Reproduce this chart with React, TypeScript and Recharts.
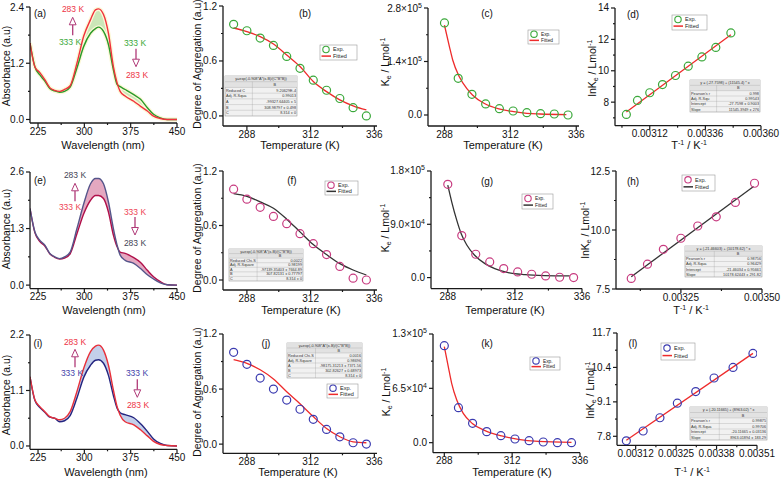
import React from "react";
import { ComposedChart, XAxis, YAxis, Line, Area, Scatter } from "recharts";

const FONT = "'Liberation Sans', Arial, sans-serif";
const AX = "#1a1a1a";

// ---------- spectra (a), (e), (i) ----------
const wl = [212, 220, 228, 236, 244, 252, 260, 268, 277, 288, 299, 310, 318, 323, 331, 339, 347, 353, 358, 366, 380, 391, 402, 412, 423, 434, 450];
const a283 = [1.63, 1.12, 1.0, 0.85, 0.68, 0.62, 0.6, 0.64, 0.72, 1.2, 1.78, 2.13, 2.34, 2.36, 2.24, 1.84, 1.13, 0.78, 0.6, 0.5, 0.39, 0.28, 0.18, 0.07, 0.02, 0.0, 0];
const a333 = [1.63, 1.12, 0.95, 0.82, 0.66, 0.61, 0.58, 0.6, 0.69, 1.1, 1.56, 1.84, 1.94, 1.97, 1.88, 1.6, 1.06, 0.75, 0.7, 0.64, 0.53, 0.43, 0.25, 0.11, 0.035, 0.0, 0];
const e283 = [1.76, 1.22, 1.03, 0.92, 0.73, 0.65, 0.61, 0.65, 0.76, 1.3, 1.87, 2.33, 2.45, 2.45, 2.33, 1.91, 1.3, 0.92, 0.69, 0.57, 0.5, 0.38, 0.24, 0.14, 0.05, 0.01, 0];
const e333 = [1.76, 1.2, 1.0, 0.9, 0.72, 0.64, 0.6, 0.62, 0.72, 1.18, 1.64, 1.95, 2.06, 2.06, 1.99, 1.68, 1.15, 0.88, 0.76, 0.73, 0.63, 0.52, 0.34, 0.19, 0.08, 0.01, 0];
const i283 = [1.37, 0.91, 0.78, 0.68, 0.58, 0.55, 0.52, 0.55, 0.68, 1.08, 1.54, 1.87, 1.98, 2.0, 1.9, 1.6, 1.11, 0.78, 0.61, 0.48, 0.42, 0.32, 0.2, 0.09, 0.03, 0.01, 0];
const i333 = [1.37, 0.9, 0.76, 0.67, 0.57, 0.55, 0.48, 0.5, 0.6, 0.95, 1.36, 1.6, 1.7, 1.71, 1.64, 1.4, 1.0, 0.75, 0.66, 0.62, 0.56, 0.44, 0.29, 0.14, 0.05, 0.01, 0];

// ---------- degree of aggregation (b), (f), (j) ----------
const tempAgg = [283, 288, 293, 298, 303, 308, 313, 318, 323, 328, 333];
const degB = [1.0, 0.93, 0.85, 0.77, 0.65, 0.52, 0.39, 0.28, 0.19, 0.09, 0.0];
const fitB = [0.96, 0.92, 0.865, 0.785, 0.665, 0.54, 0.375, 0.265, 0.175, 0.11, 0.065];
const degF = [1.0, 0.89, 0.8, 0.7, 0.62, 0.51, 0.4, 0.28, 0.15, 0.02, 0.0];
const fitF = [0.95, 0.92, 0.86, 0.79, 0.67, 0.53, 0.39, 0.28, 0.18, 0.11, 0.055];
const degJ = [1.0, 0.87, 0.72, 0.6, 0.48, 0.38, 0.27, 0.16, 0.08, 0.015, 0.0];
const fitJ = [0.92, 0.88, 0.81, 0.71, 0.57, 0.44, 0.3, 0.17, 0.08, 0.025, 0.015];

// ---------- Ke vs T (c), (g), (k) ----------
const tempKe = [288, 293, 298, 303, 308, 313, 318, 323, 328, 333];
const keC = [241000, 96000, 54000, 29000, 16600, 10500, 6100, 3500, 2600, 0];
const fitCT = [288, 289.8, 291, 293.4, 296.4, 298.2, 302.4, 307.8, 313.2, 318, 322.8, 332.4];
const fitCV = [235000, 179000, 144000, 100000, 67000, 52500, 30600, 15700, 8750, 4400, 2600, 900];
const keG = [157500, 71000, 39400, 26400, 15200, 9600, 5600, 2800, 600, 0];
const fitGT = [288, 289.4, 291.2, 292.8, 294.8, 297.6, 301.3, 304.8, 309.6, 315.6, 322.7, 331.6];
const fitGV = [156000, 128000, 97000, 74000, 55000, 37700, 23600, 15200, 8400, 5000, 3400, 2800];
const keK = [116000, 41900, 23100, 13200, 8400, 4400, 2400, 800, 0, 0];
const fitKT = [288, 289.4, 290.6, 292.4, 294.7, 297.9, 302.4, 308.3, 314.2, 321.3, 333];
const fitKV = [115000, 91000, 71000, 51000, 35000, 23000, 14400, 8000, 4000, 1600, 400];

// ---------- lnKe vs 1/T (d), (h), (l) ----------
const invD = [0.003019, 0.003067, 0.00312, 0.003175, 0.003231, 0.003286, 0.003345, 0.003405, 0.00347];
const lnD = [7.22, 8.11, 8.6, 9.12, 9.7, 10.29, 10.88, 11.49, 12.41];
const fitDX = [0.003019, 0.00347];
const fitDY = [7.37, 12.3];
const invH = [0.003097, 0.003147, 0.003196, 0.00325, 0.003302, 0.003359, 0.003418, 0.003477];
const lnH = [7.95, 8.55, 9.18, 9.65, 10.17, 10.56, 11.17, 11.98];
const fitHX = [0.003097, 0.003474];
const fitHY = [8.02, 11.84];
const invL = [0.00309, 0.003144, 0.003198, 0.003254, 0.003313, 0.003372, 0.003433, 0.003497];
const lnL = [7.63, 8.0, 8.5, 9.05, 9.49, 10.0, 10.4, 10.93];
const fitLX = [0.00309, 0.003497];
const fitLY = [7.65, 10.93];

// ---------- fit report tables ----------
const tblB = { title: "y=exp(-0.908*A*(x-B)/(C*B*B))", rows: [["Reduced C", "9.20629E-4"], ["Adj. R-Squa", "0.99013"], ["A", "-99327.64405 ± 5"], ["B", "308.98797 ± 0.498"], ["C", "8.314 ± 0"]] };
const tblF = { title: "y=exp(-0.908*A*(x-B)/(C*B*B))", rows: [["Reduced Chi-S", "0.0022"], ["Adj. R-Square", "0.98199"], ["A", "-97139.35403 ± 7664.89"], ["B", "307.82131 ± 0.77797"], ["C", "8.314 ± 0"]] };
const tblJ = { title: "y=exp(-0.908*A*(x-B)/(C*B*B))", rows: [["Reduced Chi-S", "0.0016"], ["Adj. R-Square", "0.98696"], ["A", "-98175.31213 ± 7371.56"], ["B", "302.82627 ± 0.68973"], ["C", "8.314 ± 0"]] };
const tblD = { title: "y = (-27.7598) + (11545.4) * x", rows: [["Pearson's r", "0.998"], ["Adj. R-Squ", "0.99543"], ["Intercept", "-27.7598 ± 0.9003"], ["Slope", "11545.3949 ± 276"]] };
const tblH = { title: "y = (-21.46603) + (10178.62) * x", rows: [["Pearson's r", "0.98756"], ["Adj. R-Squa", "0.96429"], ["Intercept", "-21.46034 ± 0.95661"], ["Slope", "10178.62443 ± 291.82"]] };
const tblL = { title: "y = (-20.11665) + (8963.02) * x", rows: [["Pearson's r", "0.99875"], ["Adj. R-Squa", "0.99706"], ["Intercept", "-20.11665 ± 0.03136"], ["Slope", "8963.01894 ± 183.29"]] };

const zip = (xs: number[], ys: number[]) => xs.map((x, i) => ({ x, y: ys[i] }));
const spec = (lo: number[], hi: number[]) =>
  wl.map((x, i) => ({ x, lo: lo[i], hi: hi[i], band: [lo[i], hi[i]] }));

const f1 = (v: number) => v.toFixed(1);
const f0 = (v: number) => String(Math.round(v));
const f5 = (v: number) => v.toFixed(5);
const sci = (v: number) => {
  if (v === 0) return "0.0";
  const e = Math.floor(Math.log10(v) + 1e-9);
  return (
    <>
      <tspan>{(v / 10 ** e).toFixed(1) + "×10"}</tspan>
      <tspan fontSize={7} dy={-4}>{e}</tspan>
    </>
  );
};

function makeTick(axis: "x" | "y", majors: number[], fmt: (v: number) => any) {
  return (p: any) => {
    const { x, y, payload } = p;
    const v = payload.value;
    const major = majors.some((m) => Math.abs(m - v) < 1e-12);
    const len = major ? 4 : 2;
    if (axis === "x") {
      return (
        <g>
          <line x1={x} x2={x} y1={y} y2={y + len} stroke={AX} strokeWidth={1.2} />
          {major && (
            <text x={x} y={y + 11.5} textAnchor="middle" fontSize={10} fill="#111" fontFamily={FONT}>
              {fmt(v)}
            </text>
          )}
        </g>
      );
    }
    return (
      <g>
        <line x1={x} x2={x - len} y1={y} y2={y} stroke={AX} strokeWidth={1.2} />
        {major && (
          <text x={x - 6} y={y + 3.5} textAnchor="end" fontSize={10} fill="#111" fontFamily={FONT}>
            {fmt(v)}
          </text>
        )}
      </g>
    );
  };
}

type Rect = { x: number; y: number; w: number; h: number };

function Panel(props: {
  plot: Rect; xd: number[]; yd: number[];
  xt: number[]; xm: number[]; yt: number[]; ym: number[];
  xf: (v: number) => any; yf: (v: number) => any;
  data?: any[]; children: any;
}) {
  const { plot, xd, yd, xt, xm, yt, ym, xf, yf, data, children } = props;
  return (
    <div style={{ position: "absolute", left: plot.x - 50, top: plot.y - 10 }}>
      <ComposedChart width={plot.w + 80} height={plot.h + 50} data={data}
        margin={{ top: 10, right: 30, bottom: 10, left: 0 }}>
        <XAxis type="number" dataKey="x" domain={xd as any} ticks={[...xt, ...xm]} interval={0}
          allowDataOverflow height={30} tickLine={false} tickSize={0} tickMargin={0}
          axisLine={{ stroke: AX, strokeWidth: 1.3 }} tick={makeTick("x", xt, xf)} />
        <YAxis type="number" domain={yd as any} ticks={[...yt, ...ym]} interval={0}
          allowDataOverflow width={50} tickLine={false} tickSize={0} tickMargin={0}
          axisLine={{ stroke: AX, strokeWidth: 1.3 }} tick={makeTick("y", yt, yf)} />
        {children}
      </ComposedChart>
    </div>
  );
}

const ring = (color: string) => (p: any) =>
  <circle cx={p.cx} cy={p.cy} r={4} fill="none" stroke={color} strokeWidth={1.2} />;

function Spectra({ plot, data, yt, ym, yd, hiC, loC, fill, halo }: any) {
  return (
    <Panel plot={plot} xd={[212, 450]} yd={yd} xt={[225, 300, 375, 450]} xm={[262.5, 337.5, 412.5]}
      yt={yt} ym={ym} xf={f0} yf={f1} data={data}>
      {halo && <Line dataKey="hi" type="monotone" stroke={halo} strokeWidth={4} dot={false} isAnimationActive={false} />}
      {halo && <Line dataKey="lo" type="monotone" stroke={halo} strokeWidth={4} dot={false} isAnimationActive={false} />}
      <Area dataKey="band" type="monotone" fill={fill} fillOpacity={1} stroke="none" isAnimationActive={false} />
      <Line dataKey="lo" type="monotone" stroke={loC} strokeWidth={1.4} dot={false} isAnimationActive={false} />
      <Line dataKey="hi" type="monotone" stroke={hiC} strokeWidth={1.4} dot={false} isAnimationActive={false} />
    </Panel>
  );
}

function FitPanel({ plot, xd, yd, xt, xm, yt, ym, xf, yf, exp, fit, dotC, lineC, curve }: any) {
  return (
    <Panel plot={plot} xd={xd} yd={yd} xt={xt} xm={xm} yt={yt} ym={ym} xf={xf} yf={yf}>
      <Line data={fit} dataKey="y" type={curve} stroke={lineC} strokeWidth={1.3} dot={false} isAnimationActive={false} />
      <Scatter data={exp} dataKey="y" shape={ring(dotC)} isAnimationActive={false} />
    </Panel>
  );
}

// ---------- overlay helpers ----------
function T({ x, y, s = 11, c = "#111", a = "middle", rot = false, children }: any) {
  return (
    <text x={x} y={y} fontSize={s} fill={c} textAnchor={a} dy="0.35em" fontFamily={FONT}
      transform={rot ? `rotate(-90 ${x} ${y})` : undefined}>
      {children}
    </text>
  );
}

function Arrow({ x, tip, up, c = "#b03a78" }: any) {
  const d = up ? 1 : -1;
  const base = tip + d * 7.5;
  const end = tip + d * 18;
  return (
    <g>
      <line x1={x} x2={x} y1={base} y2={end} stroke={c} strokeWidth={1.3} />
      <polygon points={`${x},${tip} ${x - 3.4},${base} ${x + 3.4},${base}`} fill="#fff" stroke={c} strokeWidth={1} />
    </g>
  );
}

function Legend({ x, y, w, h, dot, line, s = 5.5 }: any) {
  return (
    <g fontFamily={FONT}>
      <rect x={x} y={y} width={w} height={h} fill="#fff" stroke="#999" strokeWidth={0.6} />
      <circle cx={x + 6} cy={y + h * 0.3} r={3.2} fill="none" stroke={dot} strokeWidth={1.1} />
      <text x={x + 13} y={y + h * 0.3} dy="0.35em" fontSize={s} fill="#222">Exp.</text>
      <line x1={x + 1.5} x2={x + 11} y1={y + h * 0.74} y2={y + h * 0.74} stroke={line} strokeWidth={1.5} />
      <text x={x + 13} y={y + h * 0.74} dy="0.35em" fontSize={s} fill="#222">Fitted</text>
    </g>
  );
}

function Table({ x, y, w, h, t }: any) {
  const n = t.rows.length + 2;
  const rh = h / n;
  const split = x + w * 0.38;
  return (
    <g fontFamily={FONT} fontSize={3.8} fill="#333">
      <rect x={x} y={y} width={w} height={h} fill="#f1f1f1" stroke="#888" strokeWidth={0.5} />
      <rect x={x} y={y} width={w} height={rh * 2} fill="#e2e2e2" />
      <text x={x + w / 2} y={y + rh * 0.5} dy="0.35em" textAnchor="middle">{t.title}</text>
      <text x={split + (x + w - split) / 2} y={y + rh * 1.5} dy="0.35em" textAnchor="middle">B</text>
      {Array.from({ length: n - 1 }, (_, i) => (
        <line key={i} x1={x} x2={x + w} y1={y + rh * (i + 1)} y2={y + rh * (i + 1)} stroke="#999" strokeWidth={0.3} />
      ))}
      <line x1={split} x2={split} y1={y + rh} y2={y + h} stroke="#999" strokeWidth={0.3} />
      {t.rows.map((r: string[], i: number) => (
        <g key={i}>
          <text x={x + 1} y={y + rh * (i + 2.5)} dy="0.35em">{r[0]}</text>
          <text x={x + w - 1} y={y + rh * (i + 2.5)} dy="0.35em" textAnchor="end">{r[1]}</text>
        </g>
      ))}
    </g>
  );
}

const KeTitle = () => (
  <>
    <tspan>K</tspan><tspan fontSize={7} dy={2}>e</tspan>
    <tspan dy={-2}> / Lmol</tspan><tspan fontSize={7} dy={-4}>-1</tspan>
  </>
);
const LnKTitle = () => (
  <>
    <tspan>lnK</tspan><tspan fontSize={7} dy={2}>e</tspan>
    <tspan dy={-2}> / Lmol</tspan><tspan fontSize={7} dy={-4}>-1</tspan>
  </>
);
const InvTTitle = () => (
  <>
    <tspan>T</tspan><tspan fontSize={7} dy={-4}>-1</tspan>
    <tspan dy={4}> / K</tspan><tspan fontSize={7} dy={-4}>-1</tspan>
  </>
);

const GREEN = "#3aa83a";
const RED = "#ee2b2b";
const PINK = "#c83c80";
const DARK = "#333333";
const BLUE = "#3b3bb0";

const aggX = { xd: [279, 337], xt: [288, 312, 336], xm: [300, 324], xf: f0, yt: [0, 0.6, 1.2], ym: [0.3, 0.9], yf: f1 };
const keX = { xt: [288, 312, 336], xm: [300, 324], xf: f0, yf: sci };

export default function App() {
  return (
    <div style={{ position: "fixed", left: 0, top: 0, width: 783, height: 479, background: "#fff", overflow: "hidden", fontFamily: FONT }}>
      {/* row 1 */}
      <Spectra plot={{ x: 30, y: 7.3, w: 147, h: 116 }} data={spec(a333, a283)} yd={[-0.075, 2.4]}
        yt={[0, 1.2, 2.4]} ym={[0.6, 1.8]} hiC="#f0323c" loC="#2a9a2a" fill="#cbe6b8" halo="#fcf8d8" />
      <FitPanel plot={{ x: 223, y: 6, w: 154, h: 120 }} {...aggX} yd={[-0.11, 1.2]}
        exp={zip(tempAgg, degB)} fit={zip(tempAgg, fitB)} dotC={GREEN} lineC={RED} curve="monotone" />
      <FitPanel plot={{ x: 428, y: 8, w: 151, h: 118 }} {...keX} xd={[282, 337]} yd={[-28800, 280000]}
        yt={[0, 140000, 280000]} ym={[70000, 210000]}
        exp={zip(tempKe, keC)} fit={zip(fitCT, fitCV)} dotC={GREEN} lineC={RED} curve="monotone" />
      <FitPanel plot={{ x: 615, y: 8.3, w: 146, h: 117.7 }} xd={[0.00297, 0.0036]} yd={[6.5, 14]}
        xt={[0.00312, 0.00336, 0.0036]} xm={[0.003, 0.00324, 0.00348]} xf={f5}
        yt={[8, 10, 12, 14]} ym={[7, 9, 11, 13]} yf={f0}
        exp={zip(invD, lnD)} fit={zip(fitDX, fitDY)} dotC={GREEN} lineC={RED} curve="linear" />

      {/* row 2 */}
      <Spectra plot={{ x: 30, y: 171.7, w: 147, h: 116.6 }} data={spec(e333, e283)} yd={[-0.08, 2.6]}
        yt={[0, 1.3, 2.6]} ym={[0.65, 1.95]} hiC="#55558a" loC="#b0104a" fill="#e4a8c0" />
      <FitPanel plot={{ x: 223, y: 171, w: 154, h: 119 }} {...aggX} yd={[-0.11, 1.2]}
        exp={zip(tempAgg, degF)} fit={zip(tempAgg, fitF)} dotC={PINK} lineC={DARK} curve="monotone" />
      <FitPanel plot={{ x: 431, y: 170.7, w: 151, h: 117.6 }} {...keX} xd={[282, 336]} yd={[-18600, 180000]}
        yt={[0, 90000, 180000]} ym={[45000, 135000]}
        exp={zip(tempKe, keG)} fit={zip(fitGT, fitGV)} dotC={PINK} lineC={DARK} curve="monotone" />
      <FitPanel plot={{ x: 616, y: 171, w: 146, h: 118 }} xd={[0.00305, 0.0035]} yd={[7.5, 12.5]}
        xt={[0.00325, 0.0035]} xm={[0.003125, 0.003375]} xf={f5}
        yt={[7.5, 10, 12.5]} ym={[8.75, 11.25]} yf={f1}
        exp={zip(invH, lnH)} fit={zip(fitHX, fitHY)} dotC={PINK} lineC={DARK} curve="linear" />

      {/* row 3 */}
      <Spectra plot={{ x: 30, y: 335, w: 147, h: 114.3 }} data={spec(i333, i283)} yd={[-0.066, 2.2]}
        yt={[0, 1.1, 2.2]} ym={[0.55, 1.65]} hiC="#e8303a" loC="#252580" fill="#c3cfea" />
      <FitPanel plot={{ x: 223, y: 334, w: 154, h: 119.3 }} {...aggX} yd={[-0.1, 1.2]}
        exp={zip(tempAgg, degJ)} fit={zip(tempAgg, fitJ)} dotC={BLUE} lineC={RED} curve="monotone" />
      <FitPanel plot={{ x: 433, y: 334, w: 147, h: 118.7 }} {...keX} xd={[284, 336]} yd={[-12000, 130000]}
        yt={[0, 65000, 130000]} ym={[32500, 97500]}
        exp={zip(tempKe, keK)} fit={zip(fitKT, fitKV)} dotC={BLUE} lineC={RED} curve="monotone" />
      <FitPanel plot={{ x: 617, y: 332.7, w: 140, h: 112.3 }} xd={[0.00306, 0.00351]} yd={[7.46, 11.7]}
        xt={[0.00312, 0.00325, 0.00338, 0.00351]} xm={[0.003185, 0.003315, 0.003445]} xf={f5}
        yt={[7.8, 9.1, 10.4, 11.7]} ym={[8.45, 9.75, 11.05]} yf={f1}
        exp={zip(invL, lnL)} fit={zip(fitLX, fitLY)} dotC={BLUE} lineC={RED} curve="linear" />

      <svg width={783} height={479} style={{ position: "absolute", left: 0, top: 0, pointerEvents: "none" }}>
        {/* panel letters */}
        <T x={40} y={13.3} s={10}>(a)</T>
        <T x={305} y={13} s={10}>(b)</T>
        <T x={487} y={13} s={10}>(c)</T>
        <T x={633} y={14} s={10}>(d)</T>
        <T x={40} y={180} s={10}>(e)</T>
        <T x={292} y={180} s={10}>(f)</T>
        <T x={487} y={181.7} s={10}>(g)</T>
        <T x={633} y={181} s={10}>(h)</T>
        <T x={38} y={343} s={10}>(i)</T>
        <T x={266} y={343} s={10}>(j)</T>
        <T x={487} y={343} s={10}>(k)</T>
        <T x={633} y={343} s={10}>(l)</T>

        {/* x titles */}
        <T x={103} y={145}>Wavelength (nm)</T>
        <T x={300} y={145}>Temperature (K)</T>
        <T x={503} y={145}>Temperature (K)</T>
        <T x={689} y={145}><InvTTitle /></T>
        <T x={104} y={310}>Wavelength (nm)</T>
        <T x={301} y={310}>Temperature (K)</T>
        <T x={505} y={310}>Temperature (K)</T>
        <T x={691} y={310}><InvTTitle /></T>
        <T x={106} y={472}>Wavelength (nm)</T>
        <T x={298} y={472}>Temperature (K)</T>
        <T x={512} y={472}>Temperature (K)</T>
        <T x={692} y={472}><InvTTitle /></T>

        {/* y titles */}
        <T x={6} y={66} s={10.5} rot>Absorbance (a.u)</T>
        <T x={6} y={229} s={10.5} rot>Absorbance (a.u)</T>
        <T x={6} y={395} s={10.5} rot>Absorbance (a.u)</T>
        <T x={197} y={64} s={10.5} rot>Degree of Aggregation (a.u)</T>
        <T x={197} y={228} s={10.5} rot>Degree of Aggregation (a.u)</T>
        <T x={197} y={392} s={10.5} rot>Degree of Aggregation (a.u)</T>
        <T x={385} y={62} s={10.5} rot><KeTitle /></T>
        <T x={385} y={228} s={10.5} rot><KeTitle /></T>
        <T x={386} y={392} s={10.5} rot><KeTitle /></T>
        <T x={592} y={68} s={10.5} rot><LnKTitle /></T>
        <T x={585} y={230} s={10.5} rot><LnKTitle /></T>
        <T x={590} y={390} s={10.5} rot><LnKTitle /></T>

        {/* temperature annotations */}
        <T x={73} y={9.3} s={8.5} c="#ee3344">283 K</T>
        <Arrow x={72.7} tip={17.3} up />
        <T x={70} y={41.7} s={8.5} c={GREEN}>333 K</T>
        <T x={135} y={43.3} s={8.5} c={GREEN}>333 K</T>
        <Arrow x={136} tip={66.7} />
        <T x={137} y={75} s={8.5} c="#ee3344">283 K</T>

        <T x={75} y={175} s={8.5} c="#444455">283 K</T>
        <Arrow x={75} tip={183.3} up />
        <T x={70} y={207.3} s={8.5} c="#ee4455">333 K</T>
        <T x={135} y={211.7} s={8.5} c="#ee4455">333 K</T>
        <Arrow x={135} tip={235} />
        <T x={135} y={243.3} s={8.5} c="#444455">283 K</T>

        <T x={75} y={341.7} s={8.5} c="#ee3344">283 K</T>
        <Arrow x={75} tip={349.3} up />
        <T x={72} y={373.3} s={8.5} c="#4444aa">333 K</T>
        <T x={137} y={373.3} s={8.5} c="#4444aa">333 K</T>
        <Arrow x={137.3} tip={397.3} />
        <T x={138} y={405} s={8.5} c="#ee3344">283 K</T>

        {/* legends */}
        <Legend x={320} y={45} w={37} h={15} dot={GREEN} line={RED} />
        <Legend x={528} y={30} w={31} h={14} dot={GREEN} line={RED} s={4.8} />
        <Legend x={672} y={15} w={35} h={15} dot={GREEN} line={RED} />
        <Legend x={325} y={181} w={33} h={14} dot={PINK} line={DARK} />
        <Legend x={522} y={194} w={31} h={15} dot={PINK} line={DARK} s={4.8} />
        <Legend x={682} y={175} w={33} h={16} dot={PINK} line={DARK} />
        <Legend x={327} y={384} w={31} h={14} dot={BLUE} line={RED} />
        <Legend x={530} y={357} w={30} h={13} dot={BLUE} line={RED} s={4.8} />
        <Legend x={661} y={343} w={34} h={17} dot={BLUE} line={RED} />

        {/* fit tables */}
        <Table x={225} y={76} w={72} h={40} t={tblB} />
        <Table x={690} y={80} w={70} h={32} t={tblD} />
        <Table x={229} y={249} w={74} h={32} t={tblF} />
        <Table x={685} y={246} w={77} h={31} t={tblH} />
        <Table x={287} y={343} w={75} h={35} t={tblJ} />
        <Table x={690} y={407} w={77} h={33} t={tblL} />
      </svg>
    </div>
  );
}
